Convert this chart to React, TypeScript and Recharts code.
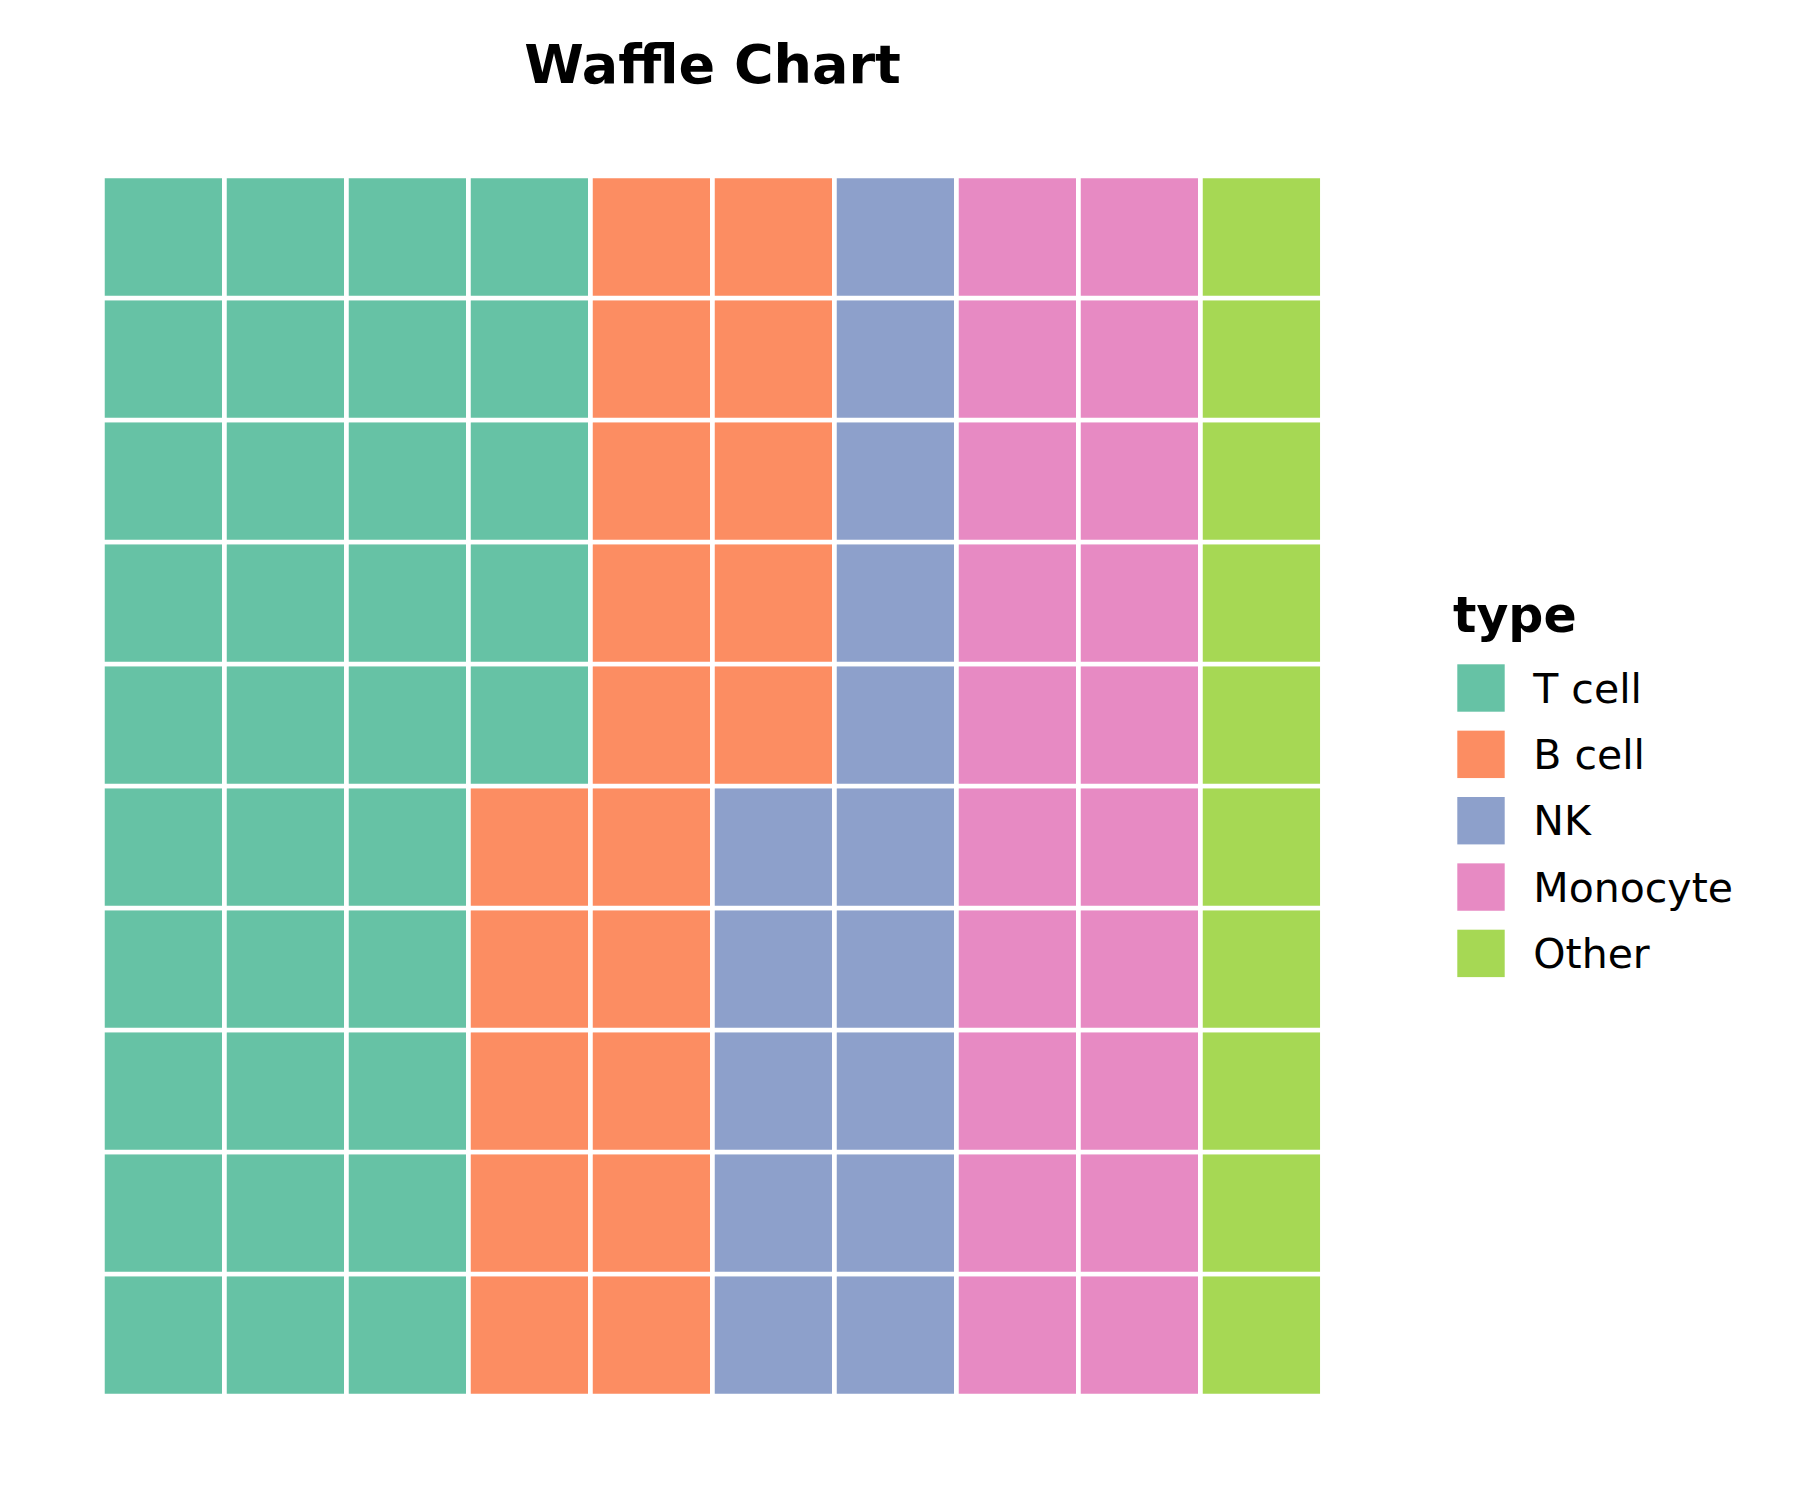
import React from "react";
import { BarChart, Bar, XAxis, YAxis, Cell } from "recharts";

const categories = ["T cell", "B cell", "NK", "Monocyte", "Other"];
const counts = [35, 20, 15, 20, 10];
const colors = ["#66c2a5", "#fc8d62", "#8da0cb", "#e78ac3", "#a6d854"];
const columnLabels = ["1", "2", "3", "4", "5", "6", "7", "8", "9", "10"];
const rowKeys = ["r0", "r1", "r2", "r3", "r4", "r5", "r6", "r7", "r8", "r9"];
const title = "Waffle Chart";
const legendTitle = "type";

// Expand counts into a 100-cell sequence (column-major, top to bottom)
const cellTypes: number[] = [];
counts.forEach((c, i) => {
  for (let k = 0; k < c; k++) cellTypes.push(i);
});

// one row per column; each stacked series is one unit tile
const data = columnLabels.map((label) => {
  const row: Record<string, any> = { col: label };
  rowKeys.forEach((k) => (row[k] = 1));
  return row;
});

// series index 0 is bottom; row from top = 9 - seriesIndex
const typeAt = (col: number, seriesIdx: number) => {
  const rowFromTop = rowKeys.length - 1 - seriesIdx;
  return cellTypes[col * rowKeys.length + rowFromTop];
};

const W = 1784;
const H = 1484;
const FONT = "DejaVu Sans, sans-serif";

export default function App() {
  return (
    <div style={{ position: "relative", width: W, height: H }}>
      <BarChart
        width={W}
        height={H}
        data={data}
        barCategoryGap={0}
        barGap={0}
        margin={{ left: 94.4, top: 168, right: W - 1314.4, bottom: H - 1388 }}
      >
        <XAxis dataKey="col" type="category" hide />
        <YAxis type="number" domain={[0, 10]} hide allowDataOverflow />
        {rowKeys.map((k, si) => (
          <Bar
            key={k}
            dataKey={k}
            stackId="a"
            isAnimationActive={false}
            stroke="#ffffff"
            strokeWidth={4.7}
          >
            {data.map((_, ci) => (
              <Cell key={ci} fill={colors[typeAt(ci, si)]} />
            ))}
          </Bar>
        ))}
      </BarChart>
      <svg
        width={W}
        height={H}
        style={{ position: "absolute", left: 0, top: 0, pointerEvents: "none" }}
      >
        <text
          x={704.5}
          y={74.7}
          textAnchor="middle"
          fontFamily={FONT}
          fontWeight="bold"
          fontSize={54}
          fill="#000"
        >
          {title}
        </text>
        <text
          x={1445}
          y={624}
          fontFamily={FONT}
          fontWeight="bold"
          fontSize={49}
          fill="#000"
        >
          {legendTitle}
        </text>
        {categories.map((c, i) => (
          <g key={c}>
            <rect
              x={1449.3}
              y={656.3 + i * 66.35}
              width={47.4}
              height={47.4}
              fill={colors[i]}
            />
            <text
              x={1525.3}
              y={694.7 + i * 66.35}
              fontFamily={FONT}
              fontSize={41}
              fill="#000"
            >
              {c}
            </text>
          </g>
        ))}
      </svg>
    </div>
  );
}
